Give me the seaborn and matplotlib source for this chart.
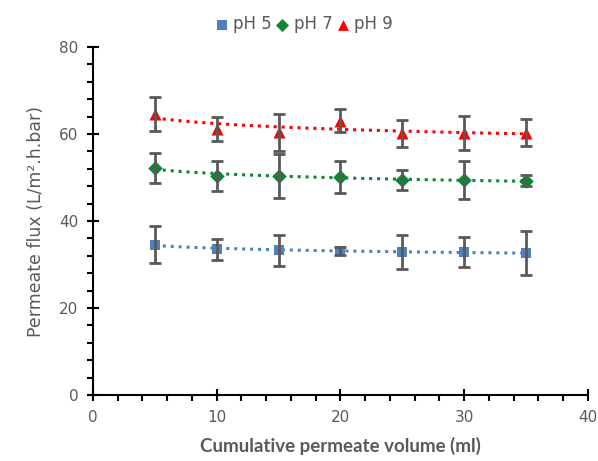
import numpy as np
import pandas as pd
import matplotlib
matplotlib.use("Agg")
import matplotlib.pyplot as plt
import seaborn as sns
from matplotlib.ticker import MultipleLocator

volume = [5, 10, 15, 20, 25, 30, 35]
series_names = ["pH 5", "pH 7", "pH 9"]
flux_ph5 = [34.6, 33.5, 33.3, 33.1, 32.9, 32.9, 32.7]
err_ph5 = [4.3, 2.4, 3.6, 1.0, 4.0, 3.4, 5.0]
flux_ph7 = [52.2, 50.4, 50.3, 50.2, 49.4, 49.4, 49.3]
err_ph7 = [3.4, 3.5, 5.1, 3.7, 2.3, 4.4, 1.3]
flux_ph9 = [64.6, 61.1, 60.4, 63.1, 60.2, 60.2, 60.3]
err_ph9 = [3.9, 2.8, 4.3, 2.6, 3.1, 3.9, 3.1]

colors = {"pH 5": "#4F81BD", "pH 7": "#0E8435", "pH 9": "#FF0000"}
markers = {"pH 5": "s", "pH 7": "D", "pH 9": "^"}
sizes = {"pH 5": 60, "pH 7": 55, "pH 9": 75}

frames = []
for name, f, e in zip(series_names, [flux_ph5, flux_ph7, flux_ph9], [err_ph5, err_ph7, err_ph9]):
    frames.append(pd.DataFrame({"volume": volume, "flux": f, "err": e, "series": name}))
df = pd.concat(frames, ignore_index=True)

sns.set_theme(style="white")
plt.rcParams['font.family'] = ['DejaVu Sans']

fig = plt.figure(figsize=(5.98, 4.61), dpi=100)
ax = fig.add_axes([0.1555, 0.143, 0.8275, 0.755])

grey = "#595959"
# logarithmic trend lines
xs = np.linspace(5, 35, 100)
for name in series_names:
    d = df[df.series == name]
    b, a = np.polyfit(np.log(d.volume), d.flux, 1)
    trend = pd.DataFrame({"x": xs, "y": a + b * np.log(xs)})
    sns.lineplot(data=trend, x="x", y="y", ax=ax, color=colors[name], linestyle=(0, (1, 1.6)),
                 linewidth=2.2, zorder=2, legend=False)

for name in series_names:
    d = df[df.series == name]
    sns.scatterplot(data=d, x="volume", y="flux", ax=ax, color=colors[name], marker=markers[name],
                    s=sizes[name], linewidth=0, zorder=3, label=name)
    ax.errorbar(d.volume, d.flux, yerr=d.err, fmt="none", ecolor=grey, elinewidth=2,
                capsize=4.5, capthick=2, zorder=4)

handles, labels = ax.get_legend_handles_labels()
if ax.get_legend() is not None:
    ax.get_legend().remove()

ax.set_xlim(0, 40)
ax.set_ylim(0, 80)
ax.xaxis.set_major_locator(MultipleLocator(10))
ax.xaxis.set_minor_locator(MultipleLocator(2))
ax.yaxis.set_major_locator(MultipleLocator(20))
ax.yaxis.set_minor_locator(MultipleLocator(4))
for s in ["top", "right"]:
    ax.spines[s].set_visible(False)
for s in ["left", "bottom"]:
    ax.spines[s].set_color("black")
    ax.spines[s].set_linewidth(1.5)
ax.tick_params(which="major", direction="inout", length=9, width=1.5, color="black",
               labelsize=11, labelcolor=grey, left=True, bottom=True, pad=6)
ax.tick_params(which="minor", direction="out", length=4.5, width=1.5, color="black",
               left=True, bottom=True)

ax.set_xlabel("Cumulative permeate volume (ml)", fontsize=13.5, color=grey,
              fontweight="bold", family=["Lato", "DejaVu Sans"], labelpad=9)
ax.set_ylabel("Permeate flux (L/m\u00b2.h.bar)", fontsize=12.5, color=grey, labelpad=10)

leg = fig.legend(handles, labels, loc="upper center", bbox_to_anchor=(0.5, 1.0), ncol=3,
                 frameon=False, handletextpad=-0.3, columnspacing=-0.4, fontsize=12,
                 markerscale=0.9)
for t in leg.get_texts():
    t.set_color(grey)

fig.savefig("out.png", dpi=100)
